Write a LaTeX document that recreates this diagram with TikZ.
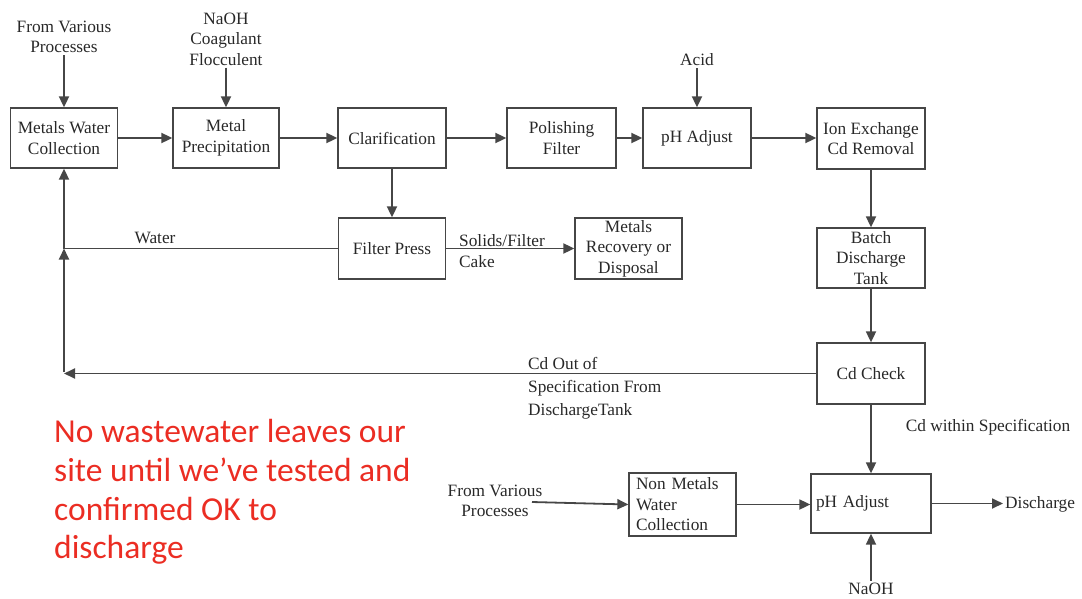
\documentclass[tikz,border=0pt]{standalone}
\usepackage{fontspec}
\setmainfont{Liberation Serif}
\newfontfamily\redfont{Carlito}
\usetikzlibrary{arrows.meta}
\definecolor{ln}{RGB}{70,70,70}
\definecolor{tx}{RGB}{40,40,40}
\definecolor{redtx}{RGB}{235,45,35}
\begin{document}
\begin{tikzpicture}[x=1pt,y=-1pt,
  every node/.style={font=\fontsize{17.3}{20.5}\selectfont, text=tx},
  box/.style={draw=ln, line width=1.3pt, inner sep=0pt, align=center},
  lbl/.style={inner sep=2pt, align=center},
  con/.style={draw=ln, line width=1.8pt},
  arr/.style={con, -{Triangle[length=11pt,width=10pt]}}]
\useasboundingbox (0,0) rectangle (1082,598);
% boxes
\node[box, minimum width=107, minimum height=60] (mwc) at (64,138) {Metals Water\\Collection};
\node[box, minimum width=106, minimum height=60] (mp) at (226,138) {Metal\\Precipitation};
\node[box, minimum width=108, minimum height=60] (cl) at (392,138) {Clarification};
\node[box, minimum width=109, minimum height=60] (pf) at (561.5,138) {Polishing\\Filter};
\node[box, minimum width=108, minimum height=60] (ph1) at (697,138) {pH Adjust};
\node[box, minimum width=108, minimum height=61] (ix) at (871,138.5) {Ion Exchange\\Cd Removal};
\node[box, minimum width=108, minimum height=60] (bdt) at (871,258) {Batch\\Discharge\\Tank};
\node[box, minimum width=107, minimum height=61] (fp) at (392,248.5) {Filter Press};
\node[box, minimum width=107, minimum height=61] (mrd) at (628.5,248.5) {Metals\\Recovery or\\Disposal};
\node[box, minimum width=108, minimum height=61] (cdc) at (871,373.5) {Cd Check};
\node[box, minimum height=59, inner xsep=5pt, text width=110pt, align=left] (ph2) at (871,503.5) {pH Adjust};
\node[box, minimum height=63, inner xsep=7pt, text width=93pt, align=left] (nm) at (682.5,504.5) {Non Metals\\Water\\Collection};
% labels
\node[lbl] (fvp1) at (64,37) {From Various\\Processes};
\node[lbl] (naoh1) at (226,39) {NaOH\\Coagulant\\Flocculent};
\node[lbl] (acid) at (697,60) {Acid};
\node[lbl] (water) at (155,238) {Water};
\node[lbl, anchor=west, align=left] (solids) at (457,251) {Solids/Filter\\Cake};
\node[lbl, anchor=west, align=left] (cdout) at (526,388) {Cd Out of\\[2.5pt]Specification From\\[2.5pt]DischargeTank};
\node[lbl] (cdwithin) at (988,427) {Cd within Specification};
\node[lbl] (fvp2) at (495,501) {From Various\\Processes};
\node[lbl, anchor=west] (dis) at (1003,504) {Discharge};
\node[lbl] (naoh2) at (871,589) {NaOH};
\node[anchor=west, align=left, inner sep=0pt, text=redtx, font=\redfont\fontsize{33.5}{38.8}\selectfont] (note) at (54,492)
  {No wastewater leaves our\\site until we’ve tested and\\confirmed OK to\\discharge};
% coordinates
\coordinate (jw) at (64,248.5);
\coordinate (jc) at (64,372);
\coordinate (src2) at (532,502);
% connectors
\draw[arr] (fvp1.south) -- (mwc.north);
\draw[arr] (naoh1.south) -- (mp.north);
\draw[arr] (acid.south) -- (ph1.north);
\draw[arr] (mwc.east) -- (mp.west);
\draw[arr] (mp.east) -- (cl.west);
\draw[arr] (cl.east) -- (pf.west);
\draw[arr] (pf.east) -- (ph1.west);
\draw[arr] (ph1.east) -- (ph1.east -| ix.west);
\draw[arr] (cl.south) -- (fp.north);
\draw[con] (fp.west) -- (jw);
\draw[arr] (jc) -- (jw);
\draw[arr] (jw) -- (jw |- mwc.south);
\draw[arr] (cdc.west) -- (cdc.west -| jc);
\draw[arr] (fp.east) -- (mrd.west);
\draw[arr] (ix.south) -- (bdt.north);
\draw[arr] (bdt.south) -- (cdc.north);
\draw[arr] (cdc.south) -- (ph2.north);
\draw[arr] (src2) -- (nm.west);
\draw[arr] (nm.east) -- (nm.east -| ph2.west);
\draw[arr] (ph2.east) -- (dis.west |- ph2.east);
\draw[arr] (naoh2.north) -- (ph2.south);
\end{tikzpicture}
\end{document}
